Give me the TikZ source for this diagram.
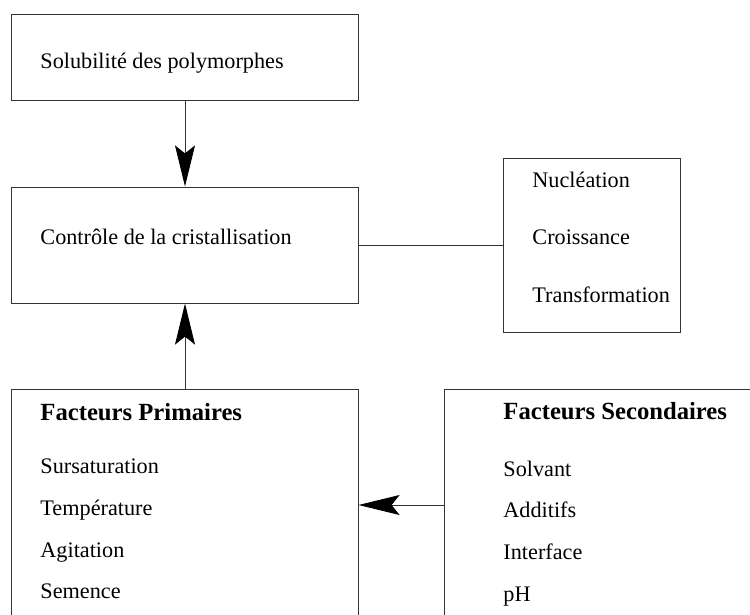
\documentclass[tikz,border=0pt]{standalone}
\usepackage{fontspec}
\setmainfont{Liberation Serif}
\usetikzlibrary{arrows.meta,positioning}
\tikzset{
  boite/.style={draw=black!80,line width=0.45pt,inner sep=0pt},
  fleche/.style={draw=black!80,line width=0.45pt,-{Stealth[length=18.5pt,width=9pt,inset=3.6pt,black]}},
  lien/.style={draw=black!80,line width=0.45pt},
  texte/.style={anchor=base west,inner sep=0pt,font=\fontsize{10}{12}\selectfont},
  titre/.style={anchor=base west,inner sep=0pt,font=\fontsize{11.1}{13}\selectfont\bfseries},
}

\begin{document}
\begin{tikzpicture}[x=0.45pt,y=-0.45pt]
  \useasboundingbox (0,0) rectangle (750,614);
  \clip (0,0) rectangle (750,614);
  % boites
  \node[boite,minimum width=155.7pt,minimum height=38.7pt] (solu) at (185,57) {};
  \node[boite,minimum width=155.7pt,minimum height=52.2pt] (ctrl) at (185,245) {};
  \node[boite,minimum width=79.65pt,minimum height=78.3pt] (proc) at (591.5,245) {};
  \node[boite,minimum width=155.7pt,minimum height=104.4pt] (prim) at (185,505) {};
  \node[boite,minimum width=142.2pt,minimum height=104.4pt] (sec) at (602,505) {};
  % textes
  \node[texte] (tsolu) at (40,68) {Solubilité des polymorphes};
  \node[texte] (tctrl) at (40,244) {Contrôle de la cristallisation};
  \node[texte] (nucl) at (532,187) {Nucléation};
  \node[texte] (croi) at (532,244) {Croissance};
  \node[texte] (trans) at (532,302) {Transformation};
  \node[titre] (tprim) at (40,420) {Facteurs Primaires};
  \node[texte] (sursat) at (40,473) {Sursaturation};
  \node[texte] (temp) at (40,515) {Température};
  \node[texte] (agit) at (40,557) {Agitation};
  \node[texte] (sem) at (40,598) {Semence};
  \node[titre] (tsec) at (503,419) {Facteurs Secondaires};
  \node[texte] (solv) at (503,476) {Solvant};
  \node[texte] (addi) at (503,517) {Additifs};
  \node[texte] (inter) at (503,559) {Interface};
  \node[texte] (ph) at (503,601) {pH};
  % liaisons
  \draw[fleche] (solu.south) -- (ctrl.north);
  \draw[fleche] (prim.north) -- (ctrl.south);
  \draw[fleche] (sec.west) -- (prim.east);
  \draw[lien] (ctrl.east) -- (proc.west);
\end{tikzpicture}
\end{document}
